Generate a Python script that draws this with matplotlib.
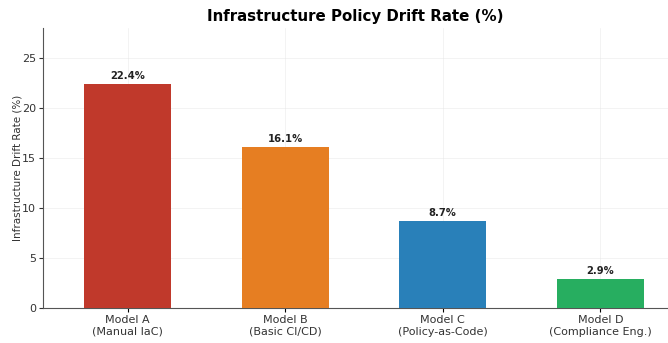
import matplotlib
matplotlib.use("Agg")
from matplotlib import pyplot as plt

models = ["Model A\n(Manual IaC)", "Model B\n(Basic CI/CD)",
          "Model C\n(Policy-as-Code)", "Model D\n(Compliance Eng.)"]
drift = [22.4, 16.1, 8.7, 2.9]
colors = ["#c0392b", "#e67e22", "#2980b9", "#27ae60"]

fig = plt.figure(figsize=(6.68, 3.43), dpi=100)
ax = fig.add_axes([0.064, 0.102, 0.936, 0.816])

x = range(len(models))
bars = ax.bar(x, drift, width=0.55, color=colors, zorder=3)
for b, v in zip(bars, drift):
    ax.text(b.get_x() + b.get_width() / 2, v + 0.35, "{:.1f}%".format(v),
            ha="center", va="bottom", fontsize=7.2, fontweight="bold", color="#222222")

ax.set_xticks(list(x))
ax.set_xticklabels(models, fontsize=8, color="#333333")
ax.set_ylim(0, 28)
ax.set_xlim(-0.54, 3.43)
ax.set_yticks([0, 5, 10, 15, 20, 25])
ax.tick_params(axis="y", labelsize=8, colors="#333333", length=3, pad=2)
ax.tick_params(axis="x", length=3, pad=2)
ax.set_ylabel("Infrastructure Drift Rate (%)", fontsize=7.5, color="#333333")
ax.yaxis.set_label_coords(-0.032, 0.5)
ax.set_title("Infrastructure Policy Drift Rate (%)", fontsize=10.8, fontweight="bold", pad=5)

ax.grid(True, color="#e4e4e4", linewidth=0.5, alpha=0.6, zorder=0)
for s in ["top", "right"]:
    ax.spines[s].set_visible(False)
for s in ["left", "bottom"]:
    ax.spines[s].set_color("#555555")
    ax.spines[s].set_linewidth(0.8)

fig.savefig("out.png", dpi=100)
